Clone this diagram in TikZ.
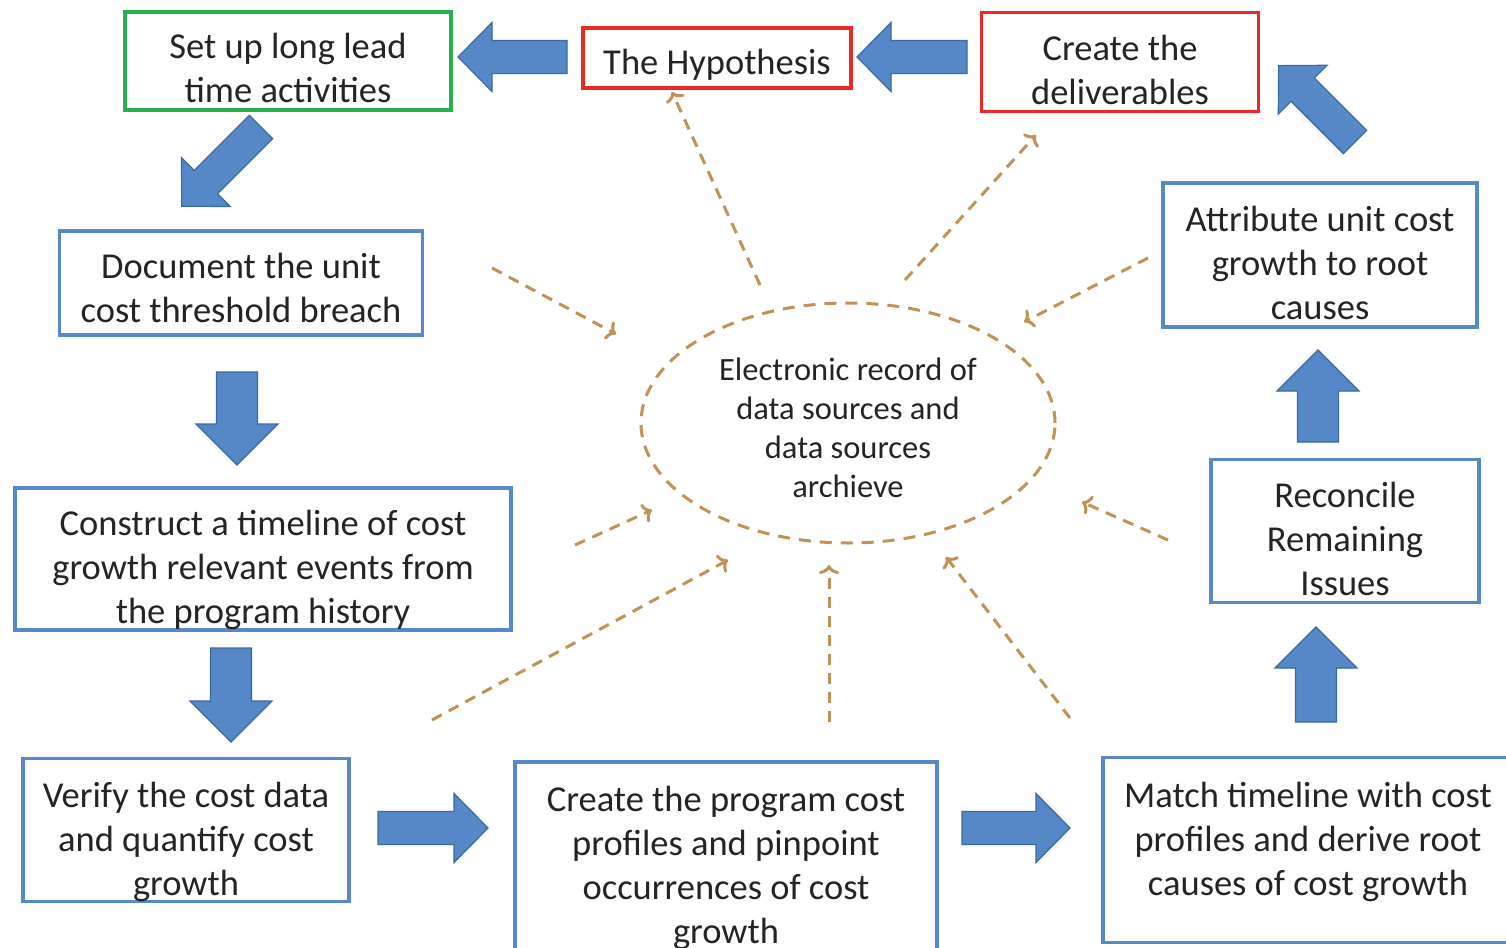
\documentclass[tikz,border=0pt]{standalone}
\usepackage{fontspec}
\setmainfont{Carlito}
\usetikzlibrary{arrows.meta,shapes.geometric}

\definecolor{boxblue}{RGB}{88,136,198}
\definecolor{boxgreen}{RGB}{38,176,78}
\definecolor{boxred}{RGB}{236,40,36}
\definecolor{arrowfill}{RGB}{86,136,199}
\definecolor{arrowline}{RGB}{58,104,160}
\definecolor{dashbrown}{RGB}{192,146,88}
\definecolor{txtgray}{RGB}{36,36,36}

\tikzset{
  stepbox/.style={draw=boxblue,line width=3.5pt,fill=white,align=center,inner sep=0pt,
    text=txtgray,font=\fontsize{36.5}{44}\selectfont,text depth=0pt},
  greenbox/.style={stepbox,draw=boxgreen},
  redbox/.style={stepbox,draw=boxred},
  recordnode/.style={ellipse,draw=dashbrown,line width=3pt,dash pattern=on 12pt off 9pt,
    align=center,inner sep=0pt,text=txtgray,font=\fontsize{32.5}{39}\selectfont,
    text height=149pt,text depth=0pt},
  dashline/.style={draw=dashbrown,line width=3pt,dash pattern=on 11pt off 8pt,
    -{To[length=9pt,width=20pt,line width=3pt]}},
  blockarrow/.style={fill=arrowfill,draw=arrowline,line width=1.2pt,line join=miter}
}

% block arrow: tail point, direction, length
\newcommand{\blockarrow}[3]{%
  \begin{scope}[shift={#1},rotate=#2]
    \draw[blockarrow] (0,-\shaft) -- ({#3-\headlen},-\shaft) -- ({#3-\headlen},-\head)
      -- (#3,0) -- ({#3-\headlen},\head) -- ({#3-\headlen},\shaft) -- (0,\shaft) -- cycle;
  \end{scope}}

\begin{document}
\begin{tikzpicture}[x=1pt,y=-1pt]
\useasboundingbox (0,0) rectangle (1506,947);
\clip (0,0) rectangle (1506,947);
\fill[white] (0,0) rectangle (1506,947);

% process boxes
\node[greenbox,minimum width=326,minimum height=98,text height=83pt] (setup) at (288,61) {Set up long lead\\time activities};
\node[redbox,minimum width=268,minimum height=60,text height=33pt] (hyp) at (717,58) {The Hypothesis};
\node[redbox,minimum width=277,minimum height=99,text height=85pt] (deliv) at (1120,62) {Create the\\deliverables};
\node[stepbox,minimum width=363,minimum height=104,text height=79pt] (doc) at (241,283) {Document the unit\\cost threshold breach};
\node[stepbox,minimum width=496,minimum height=142,text height=128pt] (timeline) at (263,559) {Construct a timeline of cost\\growth relevant events from\\the program history};
\node[stepbox,minimum width=326,minimum height=143,text height=130pt] (verify) at (186,830) {Verify the cost data\\and quantify cost\\growth};
\node[stepbox,minimum width=422,minimum height=202,text height=160pt] (profiles) at (726,863) {Create the program cost\\profiles and pinpoint\\occurrences of cost\\growth};
\node[stepbox,minimum width=410,minimum height=185,text height=90pt] (match) at (1308,850) {Match timeline with cost\\profiles and derive root\\causes of cost growth};
\node[stepbox,minimum width=268,minimum height=143,text height=128pt] (reconcile) at (1345,531) {Reconcile\\Remaining\\Issues};
\node[stepbox,minimum width=314,minimum height=144,text height=128pt] (attribute) at (1320,255) {Attribute unit cost\\growth to root\\causes};

% central record
\node[recordnode,minimum width=414,minimum height=240] (record) at (848,423) {Electronic record of\\data sources and\\data sources\\archieve};

% block arrows
\def\shaft{16.5}\def\head{34.5}\def\headlen{34}
\blockarrow{(567,57)}{180}{109}
\blockarrow{(967,57)}{180}{110}
\blockarrow{(378,828)}{0}{110}
\blockarrow{(962,828)}{0}{108}
\blockarrow{(1355,142)}{135}{108}
\blockarrow{(261,127)}{225}{112}
\def\shaft{20.5}\def\head{41}\def\headlen{41}
\blockarrow{(237,372)}{270}{93}
\blockarrow{(231,648)}{270}{94}
\blockarrow{(1316,722)}{90}{95}
\blockarrow{(1318,442)}{90}{92}

% dashed links to the record
\coordinate (hypS) at (760,285);   \coordinate (hypE) at (672,92);
\coordinate (delS) at (905,280);   \coordinate (delE) at (1036,135);
\coordinate (attS) at (1148,258);  \coordinate (attE) at (1024,322);
\coordinate (docS) at (492,268);   \coordinate (docE) at (616,334);
\coordinate (timS) at (575,545);   \coordinate (timE) at (652,510);
\coordinate (verS) at (432,720);   \coordinate (verE) at (728,560);
\coordinate (proS) at (829,722);   \coordinate (proE) at (829,565);
\coordinate (matS) at (1070,718);  \coordinate (matE) at (946,557);
\coordinate (recS) at (1168,540);  \coordinate (recE) at (1082,502);
\draw[dashline] (hypS) -- (hypE);
\draw[dashline] (delS) -- (delE);
\draw[dashline] (attS) -- (attE);
\draw[dashline] (docS) -- (docE);
\draw[dashline] (timS) -- (timE);
\draw[dashline] (verS) -- (verE);
\draw[dashline] (proS) -- (proE);
\draw[dashline] (matS) -- (matE);
\draw[dashline] (recS) -- (recE);
\end{tikzpicture}
\end{document}
